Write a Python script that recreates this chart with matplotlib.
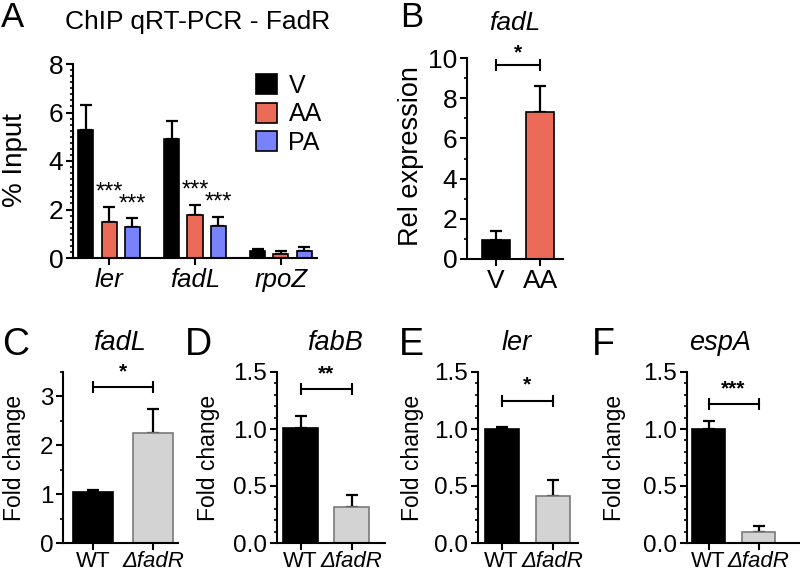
import numpy as np
import matplotlib
matplotlib.use('Agg')
import matplotlib.pyplot as plt
from matplotlib.ticker import MultipleLocator

plt.rcParams['font.family'] = ['Liberation Sans', 'DejaVu Sans']

# ---- data ----
# panel A: ChIP qRT-PCR, % input
a_genes = ['ler', 'fadL', 'rpoZ']
a_series = ['V', 'AA', 'PA']
a_v = [5.27, 4.92, 0.28]
a_v_err = [1.05, 0.75, 0.08]
a_aa = [1.47, 1.78, 0.18]
a_aa_err = [0.65, 0.42, 0.12]
a_pa = [1.26, 1.33, 0.27]
a_pa_err = [0.39, 0.38, 0.2]
a_stars = ['***', '***', '']

# panel B: fadL relative expression
b_groups = ['V', 'AA']
b_vals = [0.95, 7.3]
b_err = [0.45, 1.3]

# panels C-F: fold change WT vs deltafadR
cf_groups = ['WT', 'ΔfadR']
c_vals, c_err = [1.05, 2.25], [0.04, 0.5]
d_vals, d_err = [1.01, 0.32], [0.1, 0.1]
e_vals, e_err = [1.0, 0.41], [0.02, 0.14]
f_vals, f_err = [1.0, 0.1], [0.07, 0.05]

BLACK = '#000000'
RED = '#EC6A58'
BLUE = '#7882FC'
GRAY = '#D3D3D3'

W, H = 800, 572
fig = plt.figure(figsize=(W / 100, H / 100), dpi=100)


def px_axes(left, top, right, bottom):
    return fig.add_axes([left / W, 1 - bottom / H, (right - left) / W, (bottom - top) / H])


def style(ax):
    for s in ['top', 'right']:
        ax.spines[s].set_visible(False)
    for s in ['left', 'bottom']:
        ax.spines[s].set_linewidth(1.5)
    ax.tick_params(which='major', length=5, width=1.5, direction='out', pad=2)
    ax.tick_params(which='minor', length=2.5, width=1.2, direction='out')
    ax.tick_params(axis='x', which='minor', bottom=False)


def bracket(ax, x0, x1, y, label, star_dy):
    ax.plot([x0, x1], [y, y], color='black', lw=1.5, clip_on=False)
    ax.plot([x0, x1], [y, y], ls='none', marker='|',
            ms=9, mew=1.5, color='black', clip_on=False)
    ax.text((x0 + x1) / 2, y + star_dy, label, ha='center', va='bottom',
            fontsize=15, fontweight='bold', clip_on=False)


def two_bar(ax, vals, err, colors, edges, ylim, major, minor, width):
    x = np.arange(len(vals))
    ax.bar(x, vals, width=width, color=colors, edgecolor=edges, linewidth=1.2, zorder=2)
    ax.errorbar(x, vals, yerr=[np.zeros(len(err)), err], fmt='none',
                ecolor='black', elinewidth=1.6, capsize=4.5, capthick=1.6, zorder=1)
    ax.set_ylim(*ylim)
    ax.yaxis.set_major_locator(MultipleLocator(major))
    ax.yaxis.set_minor_locator(MultipleLocator(minor))
    style(ax)
    return x


# ---------------- panel A ----------------
axA = px_axes(73, 64, 317, 258)
xg = np.arange(len(a_genes))
off = 0.272
bw = 0.175
for vals, errs, col, dx, name in [(a_v, a_v_err, BLACK, -off, 'V'),
                                  (a_aa, a_aa_err, RED, 0, 'AA'),
                                  (a_pa, a_pa_err, BLUE, off, 'PA')]:
    axA.bar(xg + dx, vals, width=bw, color=col, edgecolor='black', linewidth=1.2,
            label=name, zorder=2)
    axA.errorbar(xg + dx, vals, yerr=[np.zeros(3), errs], fmt='none', ecolor='black',
                 elinewidth=1.6, capsize=4, capthick=1.6, zorder=1)
for i, s in enumerate(a_stars):
    if s:
        axA.text(xg[i], a_aa[i] + a_aa_err[i] + 0.12, s, ha='center', va='bottom', fontsize=17)
        axA.text(xg[i] + off, a_pa[i] + a_pa_err[i] + 0.12, s, ha='center', va='bottom', fontsize=17)
axA.set_xlim(-0.42, 2.42)
axA.set_ylim(0, 8)
axA.yaxis.set_major_locator(MultipleLocator(2))
axA.yaxis.set_minor_locator(MultipleLocator(0.25))
axA.set_xticks(xg)
axA.set_xticklabels(a_genes, fontsize=18.5, style='italic')
axA.tick_params(axis='y', labelsize=19)
style(axA)
axA.legend(loc='upper left', bbox_to_anchor=(256 / W, 1 - 74 / H),
           bbox_transform=fig.transFigure, frameon=False, fontsize=18,
           handlelength=0.85, handleheight=0.85, handletextpad=0.45,
           labelspacing=0.17, borderpad=0, borderaxespad=0)
fig.text(1 / W, 1 - 1 / H, 'A', fontsize=25, va='top', ha='left')
fig.text(198 / W, 1 - 22 / H, 'ChIP qRT-PCR - FadR', fontsize=19, va='center', ha='center')
fig.text(15 / W, 1 - 160 / H, '% Input', fontsize=20, rotation=90, va='center', ha='center')

# ---------------- panel B ----------------
axB = px_axes(467, 58, 563, 259)
xb = two_bar(axB, b_vals, b_err, [BLACK, RED], ['black', 'black'], (0, 10), 2, 1, 0.62)
axB.set_xlim(-0.66, 1.52)
axB.set_xticks(xb)
axB.set_xticklabels(b_groups, fontsize=19)
axB.tick_params(axis='y', labelsize=19)
bracket(axB, xb[0], xb[1], 9.65, '*', 0.15)
fig.text(400 / W, 1 - 1 / H, 'B', fontsize=25, va='top', ha='left')
fig.text(515 / W, 1 - 23 / H, 'fadL', fontsize=19, style='italic', va='center', ha='center')
fig.text(411 / W, 1 - 156 / H, 'Rel expression', fontsize=19.5, rotation=90, va='center', ha='center')

# ---------------- panels C-F ----------------
panels = [
    ('C', 'fadL', c_vals, c_err, (63, 178, 93, 153, 40), (0, 3.5), 1, 0.5, 3.19, '*', 2, 120, 15),
    ('D', 'fabB', d_vals, d_err, (277, 385, 300.5, 351.5, 35), (0, 1.5), 0.5, 0.1, 1.35, '**', 185, 335, 208),
    ('E', 'ler', e_vals, e_err, (478, 578, 501.5, 552.5, 34), (0, 1.5), 0.5, 0.1, 1.25, '*', 399, 517, 413),
    ('F', 'espA', f_vals, f_err, (687, 800, 708.5, 758.5, 33), (0, 1.5), 0.5, 0.1, 1.22, '***', 592, 720, 615),
]
for letter, title, vals, err, geo, ylim, major, minor, by, lab, lx, tx, yx in panels:
    left, right, c1, c2, wpx = geo
    ax = px_axes(left, 372, right, 543)
    sp = c2 - c1
    x = two_bar(ax, vals, err, [BLACK, GRAY], ['black', '#7a7a7a'], ylim, major, minor, wpx / sp)
    ax.set_xlim((left - c1) / sp, (right - c1) / sp)
    ax.set_xticks(x)
    ax.set_xticklabels(cf_groups, fontsize=16)
    ax.get_xticklabels()[1].set_style('italic')
    ax.tick_params(axis='x', pad=0.5)
    ax.tick_params(axis='y', labelsize=17.5)
    if major == 0.5:
        ax.set_yticks([0, 0.5, 1.0, 1.5])
        ax.set_yticklabels(['0.0', '0.5', '1.0', '1.5'])
    bracket(ax, x[0], x[1], by, lab, ylim[1] * 0.035)
    fig.text(lx / W, 1 - 345 / H, letter, fontsize=27, va='center', ha='left')
    fig.text(tx / W, 1 - 343 / H, title, fontsize=19.5, style='italic', va='center', ha='center')
    fig.text(yx / W, 1 - 458 / H, 'Fold change', fontsize=16.5, rotation=90, va='center', ha='center')

fig.savefig('out.png', dpi=100)
